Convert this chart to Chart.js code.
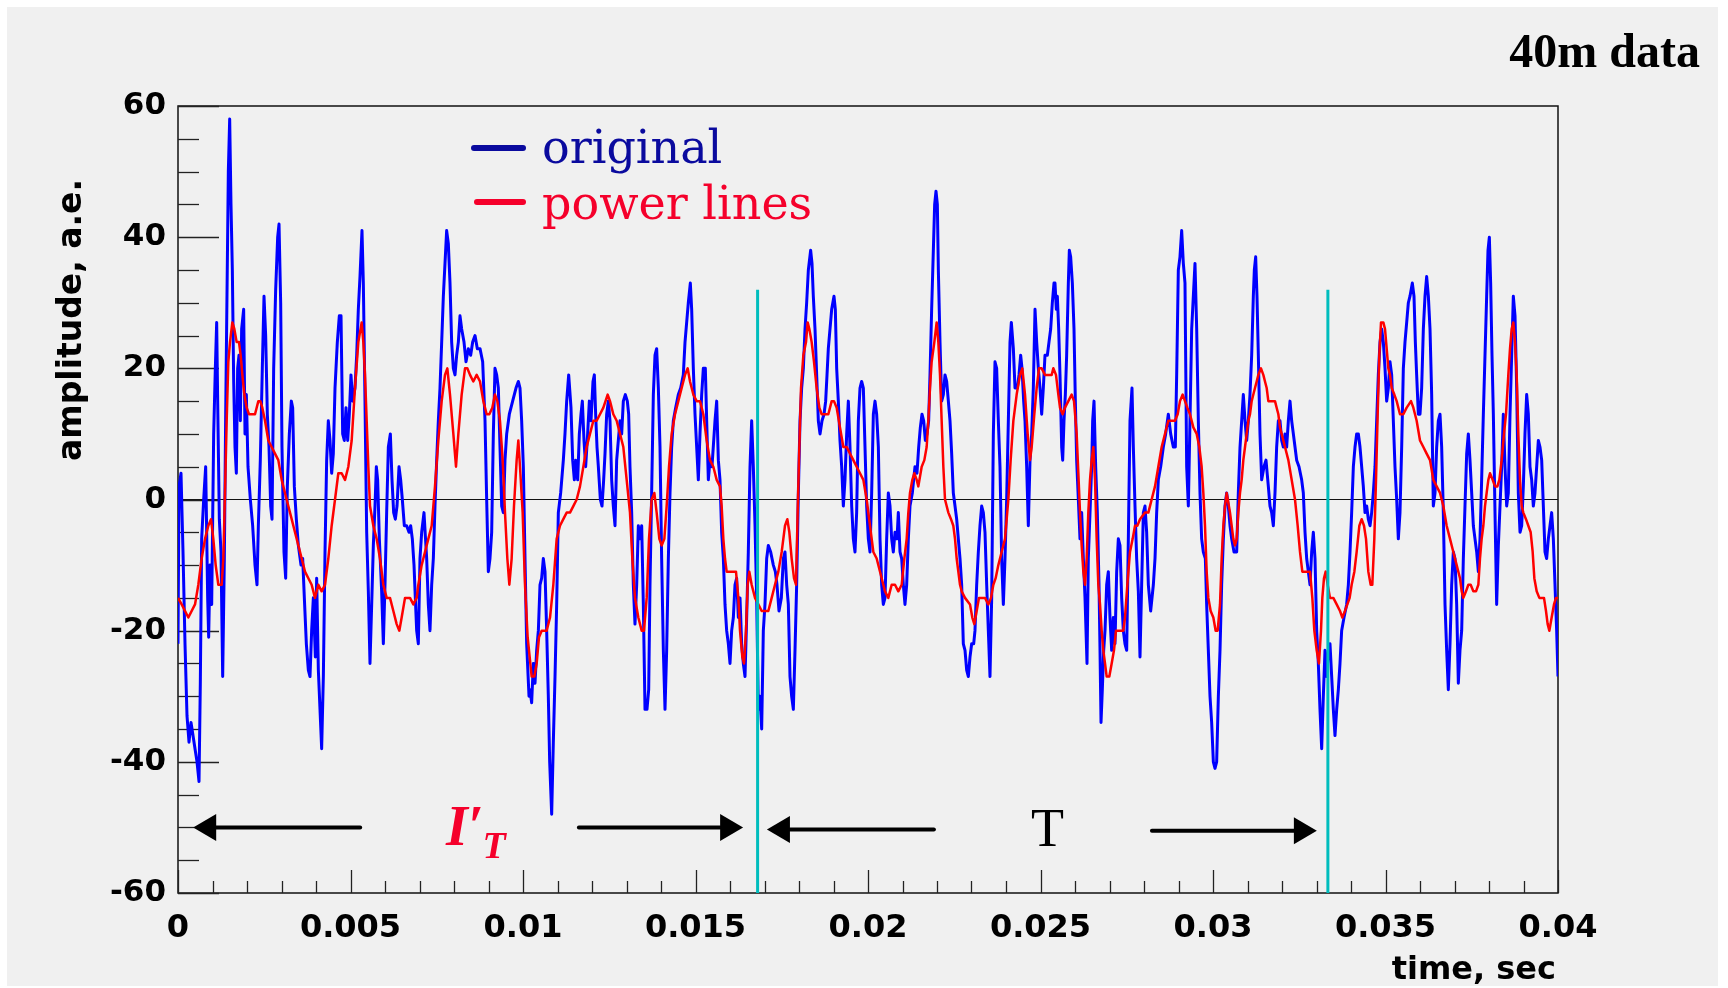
<!DOCTYPE html>
<html>
<head>
<meta charset="utf-8">
<title>40m data</title>
<script src="https://cdn.jsdelivr.net/npm/chart.js@4.4.1/dist/chart.umd.min.js"></script>
<style>
  html, body { margin: 0; padding: 0; background: #ffffff; overflow: hidden; }
  canvas { display: block; }
</style>
</head>
<body>
<canvas id="chart" width="1728" height="988"></canvas>
<script>
// ---- recorded signal: time in milliseconds, amplitude in a.e. ----
const originalTimeMs = [
  0.000,0.029,0.087,0.145,0.203,0.261,0.319,0.377,
  0.435,0.493,0.551,0.609,0.647,0.686,0.744,0.802,
  0.860,0.889,0.928,0.976,1.034,1.082,1.121,1.150,
  1.198,1.246,1.295,1.343,1.382,1.430,1.459,1.498,
  1.536,1.575,1.614,1.652,1.691,1.729,1.768,1.807,
  1.845,1.903,1.942,1.981,2.029,2.097,2.164,2.232,
  2.290,2.329,2.386,2.444,2.493,2.541,2.589,2.638,
  2.686,2.725,2.773,2.831,2.889,2.928,2.976,3.014,
  3.072,3.121,3.169,3.227,3.285,3.324,3.372,3.430,
  3.488,3.565,3.614,3.662,3.720,3.778,3.826,3.874,
  3.923,3.981,4.019,4.068,4.116,4.164,4.213,4.261,
  4.309,4.357,4.406,4.454,4.502,4.551,4.618,4.676,
  4.725,4.773,4.821,4.870,4.918,4.966,5.014,5.063,
  5.130,5.179,5.227,5.275,5.333,5.372,5.420,5.469,
  5.517,5.565,5.614,5.662,5.710,5.749,5.787,5.836,
  5.903,5.952,6.000,6.048,6.097,6.155,6.203,6.251,
  6.300,6.348,6.406,6.454,6.502,6.560,6.628,6.696,
  6.744,6.792,6.841,6.879,6.918,6.966,7.014,7.063,
  7.130,7.208,7.256,7.304,7.353,7.401,7.449,7.498,
  7.546,7.594,7.643,7.691,7.739,7.787,7.836,7.884,
  7.932,7.981,8.029,8.077,8.126,8.174,8.222,8.290,
  8.348,8.415,8.483,8.541,8.609,8.676,8.754,8.831,
  8.899,8.947,8.995,9.043,9.092,9.140,9.188,9.237,
  9.285,9.333,9.382,9.430,9.478,9.527,9.604,9.700,
  9.797,9.865,9.913,9.961,10.010,10.058,10.106,10.174,
  10.203,10.251,10.300,10.348,10.396,10.445,10.493,10.541,
  10.589,10.638,10.686,10.734,10.773,10.802,10.831,10.879,
  10.928,10.976,11.024,11.092,11.169,11.217,11.266,11.324,
  11.391,11.440,11.488,11.527,11.585,11.633,11.681,11.720,
  11.768,11.816,11.874,11.923,11.971,12.029,12.068,12.106,
  12.145,12.184,12.242,12.290,12.338,12.377,12.425,12.473,
  12.522,12.570,12.618,12.667,12.715,12.763,12.812,12.860,
  12.908,12.966,13.024,13.063,13.101,13.150,13.198,13.246,
  13.295,13.343,13.391,13.440,13.488,13.536,13.594,13.643,
  13.681,13.729,13.778,13.826,13.874,13.923,13.971,14.019,
  14.068,14.116,14.164,14.213,14.261,14.309,14.357,14.425,
  14.502,14.570,14.647,14.696,14.744,14.792,14.850,14.889,
  14.937,14.986,15.034,15.082,15.130,15.179,15.227,
  15.285,15.324,15.372,15.420,15.478,15.565,15.614,15.662,
  15.710,15.758,15.807,15.855,15.903,15.952,16.000,16.048,
  16.097,16.145,16.193,16.242,16.290,16.338,16.386,16.435,
  16.483,16.531,16.580,16.628,16.676,16.725,16.773,16.821,
  16.870,16.918,16.966,17.014,17.063,17.111,17.179,17.256,
  17.314,17.362,17.420,17.488,17.546,17.594,17.643,17.691,
  17.739,17.787,17.836,17.884,17.932,17.981,18.029,18.077,
  18.126,18.174,18.222,18.271,18.338,18.377,18.415,18.464,
  18.512,18.560,18.609,18.667,18.725,18.773,18.812,18.850,
  18.899,18.947,19.014,19.053,19.092,19.140,19.188,19.237,
  19.285,19.333,19.382,19.430,19.478,19.527,19.575,19.623,
  19.671,19.720,19.768,19.816,19.865,19.913,19.961,20.010,
  20.058,20.106,20.155,20.203,
  20.251,20.300,20.348,20.396,20.444,20.493,20.541,20.589,
  20.638,20.686,20.734,20.783,20.841,20.879,20.928,20.976,
  21.024,21.072,21.121,21.169,21.217,21.285,21.362,21.420,
  21.469,21.517,21.565,21.614,21.662,21.710,21.758,21.797,
  21.845,21.894,21.932,21.971,22.010,22.039,22.087,22.135,
  22.184,22.232,22.280,22.329,22.377,22.425,22.473,22.522,
  22.570,22.618,22.667,22.715,22.763,22.812,22.860,22.908,
  22.957,23.005,23.063,23.101,23.150,23.198,23.246,23.295,
  23.343,23.391,23.440,23.488,23.536,23.585,23.633,23.681,
  23.729,23.778,23.826,23.874,23.923,23.971,24.019,24.068,
  24.116,24.155,24.213,24.261,24.329,24.377,24.425,24.464,
  24.512,24.551,24.599,24.647,24.696,24.744,24.792,24.841,
  24.889,24.937,24.986,25.034,25.082,25.130,25.198,25.246,
  25.295,25.343,25.391,
  25.420,25.459,25.488,25.527,25.565,25.614,25.643,25.681,
  25.720,25.758,25.807,25.836,25.874,25.923,25.971,26.010,
  26.048,26.097,26.145,26.193,26.242,26.290,26.348,26.386,
  26.435,26.483,26.512,26.551,26.599,26.647,26.696,26.725,
  26.754,26.792,26.831,26.870,26.918,26.966,27.014,27.063,
  27.111,27.159,27.208,27.256,27.304,27.353,27.401,27.449,
  27.498,27.546,27.594,27.652,27.691,27.739,27.787,27.836,
  27.884,27.932,27.981,28.029,28.077,28.126,28.193,28.271,
  28.319,28.367,28.415,28.483,28.560,28.628,28.705,28.773,
  28.850,28.908,28.947,28.995,29.043,29.092,29.140,29.188,
  29.237,29.285,29.333,29.382,29.430,29.478,29.527,29.575,
  29.623,29.671,29.720,29.778,29.816,29.865,29.913,29.961,
  30.010,30.058,30.106,30.155,30.203,30.251,30.300,30.348,
  30.396,30.444,
  30.493,30.541,30.609,30.686,30.734,30.783,30.831,30.879,
  30.928,30.976,31.024,31.072,31.121,31.169,31.198,31.237,
  31.275,31.314,31.362,31.411,31.478,31.536,31.604,31.652,
  31.700,31.749,31.797,31.845,31.894,31.942,31.990,32.039,
  32.087,32.135,32.184,32.232,32.280,32.329,32.377,32.425,
  32.493,32.570,32.618,32.667,32.715,32.763,32.812,32.860,
  32.908,32.957,33.005,33.053,33.101,33.150,33.198,33.246,
  33.295,33.343,33.391,33.440,33.488,33.536,33.585,33.633,
  33.681,33.729,33.797,33.874,33.923,33.971,34.019,34.068,
  34.116,34.164,34.213,34.261,34.309,34.357,34.406,34.454,
  34.502,34.551,34.599,34.647,34.696,34.744,34.792,34.841,
  34.889,34.937,34.986,35.034,35.082,35.130,35.179,35.227,
  35.275,35.324,35.372,35.420,35.469,
  35.517,35.565,35.614,35.662,35.710,35.778,35.826,35.865,
  35.903,35.952,36.000,36.048,36.097,36.145,36.193,36.242,
  36.290,36.338,36.386,36.435,36.483,36.531,36.580,36.628,
  36.676,36.725,36.773,36.821,36.870,36.918,36.966,37.014,
  37.063,37.111,37.159,37.208,37.256,37.304,37.353,37.401,
  37.449,37.498,37.546,37.594,37.643,37.691,37.739,37.787,
  37.836,37.884,37.932,37.971,38.010,38.048,38.087,38.126,
  38.174,38.222,38.271,38.319,38.367,38.415,38.464,38.512,
  38.560,38.609,38.657,38.705,38.754,38.802,38.850,38.899,
  38.947,38.995,39.043,39.092,39.140,39.188,39.237,39.285,
  39.333,39.382,39.430,39.478,39.527,39.575,39.623,39.671,
  39.720,39.768,39.816,39.865,39.913,39.961,40.000
];
const originalAmplitude = [
  -22,2,4,-8,-22,-33,-37,-34,
  -36,-38,-40,-43,-28,-6,0,5,
  -15,-21,-10,-16,10,20,27,15,
  -3,-8,-27,-9,13,36,50,58,
  45,35,18,8,4,20,22,12,
  26,29,10,16,5,0,-4,-10,
  -13,-4,6,20,31,25,13,8,
  -1,-3,20,32,40,42,30,8,
  -8,-12,2,10,15,14,2,-3,
  -7,-10,-9,-15,-22,-26,-27,-20,
  -15,-24,-12,-26,-32,-38,-27,-8,
  6,12,9,4,7,17,24,28,
  28,10,9,14,9,13,19,15,
  17,22,29,34,41,33,15,-5,
  -14,-25,-16,-7,-1,5,3,-6,
  -14,-22,-13,-2,8,10,3,-2,
  -3,-1,5,3,0,-4,-4,-5,
  -4,-6,-10,-15,-20,-22,-9,-5,
  -2,-9,-16,-20,-13,-9,-1,6,
  12,17,24,31,36,41,39,33,
  24,20,19,22,24,28,26,24,
  21,23,22,24,25,23,23,21,
  12,0,-11,-9,-5,10,20,19,
  17,8,-1,-2,6,10,13,15,
  17,18,17,12,5,-9,-22,-30,
  -29,-31,-25,-28,-23,-20,-13,-12,
  -9,-11,-20,-30,-40,-44,-48,-37,
  -27,-16,-2,1,6,10,15,19,
  14,6,3,6,3,10,13,15,
  9,5,10,15,12,18,19,13,
  8,5,0,-1,3,7,13,15,
  12,3,-1,-4,6,9,12,10,
  15,16,15,13,5,-2,-13,-19,
  -13,-4,-6,-4,-16,-32,-32,-29,
  -13,1,16,22,23,17,8,-9,
  -23,-32,-23,-9,1,8,12,14,
  16,17,19,24,27,30,33,29,
  20,13,8,3,10,16,20,
  20,12,3,6,5,12,15,6,
  3,-5,-9,-16,-20,-22,-25,-20,
  -18,-13,-12,-18,-15,-22,-25,-27,
  -18,-8,5,12,5,-4,-15,-32,
  -30,-35,-20,-16,-9,-7,-8,-10,
  -11,-13,-17,-15,-9,-8,-13,-16,
  -27,-30,-32,-23,-13,1,12,17,
  20,26,30,35,38,36,31,26,
  19,12,10,12,13,15,19,23,
  26,29,31,29,20,15,9,5,
  -1,3,10,15,8,-1,-6,-8,
  -2,12,17,18,17,8,-1,-6,
  -8,1,13,15,
  13,8,-6,-13,-16,-15,-6,1,
  -1,-6,-8,-5,-6,-2,-8,-9,
  -13,-16,-13,-6,-1,1,5,4,
  8,11,13,12,9,10,12,19,
  29,38,45,47,45,35,24,15,
  16,19,18,15,12,7,1,-1,
  -3,-6,-9,-13,-22,-23,-26,-27,
  -24,-22,-22,-20,-13,-8,-4,-1,
  -2,-5,-13,-20,-27,-15,10,21,
  20,12,5,-9,-16,-9,0,12,
  24,27,23,17,17,19,22,20,
  15,12,5,-4,6,10,17,29,
  24,20,17,13,17,22,22,24,
  26,30,33,
  33,29,31,26,19,8,6,12,
  16,22,33,38,37,33,26,15,
  6,0,-6,-2,-9,-15,-25,-9,
  -2,5,12,15,5,-2,-13,-23,
  -34,-29,-23,-20,-13,-11,-18,-23,
  -18,-22,-11,-6,-7,-15,-20,-22,
  -23,-6,12,17,8,-1,-9,-14,
  -24,-13,-2,-1,-5,-13,-17,-13,
  -9,-2,3,5,8,10,13,10,
  8,8,19,35,37,41,36,33,
  5,-1,12,26,31,36,26,12,
  1,-6,-8,-9,-16,-23,-30,-34,
  -40,-41,-40,-30,-23,-13,-6,-1,
  1,-1,
  -4,-6,-8,-8,1,8,12,16,
  12,9,12,16,22,31,35,37,
  31,22,10,3,5,6,2,-1,
  -2,-4,1,8,12,12,9,8,
  10,8,12,15,12,10,8,6,
  5,3,1,-5,-9,-11,-13,-8,
  -5,-9,-20,-25,-32,-38,-30,-23,
  -27,-23,-22,-27,-32,-36,-32,-29,
  -25,-20,-18,-16,-13,-8,-2,5,
  8,10,10,8,5,2,-2,-1,
  -3,-4,-2,1,5,12,19,24,
  26,24,20,15,17,21,19,12,
  5,0,-6,-2,8,
  20,24,27,30,31,33,31,24,
  19,13,13,17,26,31,34,31,
  26,16,-1,1,8,12,13,8,
  -2,-16,-23,-29,-22,-13,-8,-9,
  -16,-28,-23,-20,-9,-1,7,10,
  6,1,-4,-6,-8,-11,-6,3,
  13,22,31,38,40,33,22,13,
  -2,-16,-7,-1,5,13,5,-1,
  1,13,22,31,28,17,1,-5,
  -4,2,10,16,13,5,3,-1,
  1,5,9,8,6,-1,-8,-9,
  -6,-4,-2,-6,-13,-20,-27
];

// ---- power-line component: time in milliseconds, amplitude in a.e. ----
const powerLinesTimeMs = [
  0.000,0.106,0.300,0.493,0.589,0.686,0.783,0.879,
  0.957,1.024,1.092,1.169,1.266,1.314,1.362,1.411,
  1.459,1.507,1.575,1.633,1.700,1.768,1.816,1.865,
  1.923,1.990,2.058,2.135,2.232,2.329,2.386,2.444,
  2.522,2.618,2.715,2.812,2.908,3.005,3.101,3.198,
  3.295,3.391,3.488,3.585,3.681,3.778,3.874,3.971,
  4.068,4.164,4.261,4.357,4.454,4.551,4.647,4.744,
  4.841,4.937,5.034,5.130,5.227,5.324,5.372,5.420,
  5.469,5.517,5.565,5.662,5.758,5.855,5.952,6.048,
  6.145,6.242,6.338,6.415,6.483,6.580,6.647,6.725,
  6.821,6.918,6.966,7.063,7.159,7.256,7.353,7.449,
  7.546,7.643,7.739,7.807,7.884,7.981,8.058,8.126,
  8.222,8.319,8.386,8.464,8.560,8.657,8.754,8.850,
  8.947,9.024,9.111,9.188,9.256,9.333,9.411,9.478,
  9.546,9.604,9.671,9.739,9.816,9.865,9.913,9.990,
  10.058,10.135,10.251,10.329,10.396,10.464,10.541,10.618,
  10.686,10.783,10.879,10.976,11.072,11.169,11.266,11.362,
  11.459,11.556,11.652,11.749,11.845,11.942,12.039,12.135,
  12.232,12.329,12.454,12.522,12.618,12.715,12.812,12.908,
  13.005,13.101,13.169,13.246,13.343,13.440,13.507,13.585,
  13.652,13.729,13.807,13.874,13.952,14.019,14.097,14.164,
  14.232,14.309,14.406,14.502,14.599,14.696,14.773,14.841,
  14.937,15.034,15.130,15.227,15.324,15.420,15.517,15.614,
  15.710,15.758,15.807,15.855,15.903,16.000,16.097,16.174,
  16.242,16.290,16.357,16.406,16.464,16.512,16.560,16.628,
  16.725,16.821,16.918,17.014,17.111,17.208,17.304,17.401,
  17.498,17.594,17.662,17.720,17.787,17.855,17.913,17.961,
  18.010,18.058,18.126,18.203,18.251,18.300,18.367,18.435,
  18.512,18.589,18.657,18.754,18.850,18.947,19.014,19.092,
  19.188,19.285,19.382,19.478,19.575,19.671,19.768,19.865,
  19.961,20.058,20.155,20.251,20.396,20.493,20.589,20.686,
  20.783,20.879,20.976,21.053,21.121,21.169,21.217,21.285,
  21.343,21.411,21.459,21.556,21.633,21.700,21.749,21.797,
  21.845,21.923,21.990,22.039,22.087,22.135,22.184,22.232,
  22.280,22.329,22.406,22.473,22.522,22.570,22.618,22.667,
  22.715,22.812,22.957,23.024,23.082,23.150,23.217,23.295,
  23.391,23.488,23.565,23.633,23.700,23.778,23.874,23.971,
  24.068,24.135,24.213,24.309,24.406,24.473,24.551,24.628,
  24.696,24.744,24.821,24.889,24.957,25.034,25.130,25.227,
  25.324,25.372,25.449,25.517,25.565,25.643,25.710,25.807,
  25.903,25.971,26.048,26.097,26.145,26.193,26.242,26.290,
  26.338,26.386,26.435,26.483,26.531,26.580,26.628,26.676,
  26.725,26.773,26.821,26.870,26.918,26.995,27.063,27.130,
  27.188,27.256,27.401,27.449,27.517,27.594,27.671,27.739,
  27.807,27.884,28.029,28.126,28.222,28.319,28.415,28.512,
  28.609,28.705,28.899,28.976,29.043,29.121,29.188,29.256,
  29.333,29.430,29.527,29.604,29.671,29.720,29.768,29.816,
  29.865,29.932,30.010,30.077,30.135,30.203,30.251,30.300,
  30.348,30.396,30.493,30.541,30.589,30.638,30.686,30.734,
  30.783,30.831,30.879,30.928,30.976,31.024,31.072,31.121,
  31.169,31.217,31.266,31.314,31.391,31.459,31.507,31.556,
  31.604,31.700,31.797,31.845,31.894,31.942,31.990,32.087,
  32.184,32.280,32.377,32.454,32.522,32.589,32.667,32.744,
  32.812,32.879,32.937,33.005,33.072,33.130,33.169,33.217,
  33.266,33.324,33.391,33.488,33.585,33.681,33.749,33.826,
  33.894,33.961,34.019,34.097,34.164,34.242,34.309,34.377,
  34.435,34.502,34.570,34.618,34.676,34.725,34.773,34.821,
  34.870,34.937,34.986,35.034,35.082,35.130,35.179,35.256,
  35.324,35.420,35.517,35.614,35.739,35.807,35.903,36.000,
  36.097,36.193,36.290,36.386,36.483,36.580,36.676,36.773,
  36.870,36.966,37.063,37.159,37.208,37.256,37.333,37.401,
  37.469,37.546,37.623,37.691,37.739,37.787,37.836,37.884,
  37.932,37.981,38.029,38.106,38.174,38.242,38.300,38.367,
  38.435,38.493,38.560,38.609,38.657,38.705,38.754,38.802,
  38.850,38.899,38.947,38.995,39.072,39.140,39.208,39.266,
  39.314,39.382,39.459,39.527,39.594,39.652,39.700,39.749,
  39.816,39.884,39.942,40.000
];
const powerLinesAmplitude = [
  -15,-16,-18,-16,-13,-9,-6,-4,
  -3,-6,-10,-13,-13,-9,1,12,
  21,24,27,26,24,24,22,19,
  16,14,13,13,13,15,15,14,
  12,9,8,7,6,3,1,-1,
  -3,-5,-7,-9,-11,-12,-13,-15,
  -13,-14,-13,-9,-4,0,4,4,
  3,5,9,17,24,27,24,19,
  12,5,-1,-4,-6,-9,-13,-15,
  -15,-17,-19,-20,-18,-15,-15,-15,
  -16,-15,-13,-10,-8,-6,-4,2,
  9,15,19,20,16,10,5,10,
  16,20,20,19,18,19,18,15,
  13,13,14,16,15,12,6,-2,
  -9,-13,-9,-1,6,9,5,-2,
  -13,-21,-27,-27,-25,-21,-20,-20,
  -20,-18,-13,-6,-4,-3,-2,-2,
  -1,0,2,5,8,10,12,12,
  13,14,16,15,13,12,10,8,
  3,-2,-9,-15,-18,-20,-20,-15,
  -6,0,1,-2,-6,-7,-6,-1,
  5,10,13,15,17,19,20,18,
  16,15,15,13,9,6,5,3,
  2,-1,-6,-9,-11,-11,-11,-11,
  -15,-20,-24,-25,-20,-13,-11,-13,
  -15,-16,-17,-17,-17,-15,-13,-11,
  -8,-4,-3,-5,-9,-12,-13,-2,
  8,17,22,24,27,26,24,21,
  17,14,13,13,13,15,15,14,
  11,8,8,7,6,5,4,3,
  0,-4,-8,-9,-12,-14,-15,-13,
  -13,-14,-13,-9,-6,-2,1,3,
  4,3,2,5,6,8,12,17,
  21,24,27,24,19,12,5,0,
  -1,-2,-3,-4,-6,-9,-11,-13,
  -14,-15,-16,-18,-19,-17,-15,-15,
  -15,-16,-15,-13,-12,-10,-8,-6,
  0,6,12,16,19,20,16,10,
  6,8,13,17,20,20,19,19,
  19,20,19,16,14,13,14,15,
  16,15,10,4,-2,-7,-11,-13,
  -9,-2,3,6,8,3,-6,-13,
  -16,-20,-23,-25,-27,-27,-25,-23,
  -20,-20,-20,-18,-13,-8,-6,-4,
  -4,-3,-2,-2,0,2,5,8,
  10,12,12,13,15,16,15,14,
  13,11,10,8,5,1,-4,-11,
  -15,-17,-18,-20,-20,-16,-9,-4,
  -1,1,-2,-4,-6,-7,-6,-2,
  1,3,6,8,10,12,13,15,
  16,17,18,19,20,19,18,17,
  15,15,15,14,13,11,10,8,
  6,3,0,-4,-8,-11,-11,-11,
  -11,-15,-20,-23,-25,-20,-15,-12,
  -11,-13,-15,-15,-16,-17,-18,-17,
  -16,-15,-13,-11,-8,-4,-3,-4,
  -6,-11,-13,-13,-6,3,13,22,
  27,27,26,23,20,19,17,16,
  15,13,13,14,15,14,12,9,
  8,7,6,3,2,1,-1,-4,
  -6,-8,-10,-12,-14,-15,-14,-13,
  -13,-14,-14,-13,-9,-6,-4,-1,
  1,3,4,3,2,2,3,6,
  10,13,19,23,26,27,24,19,
  10,3,-1,-2,-3,-4,-5,-8,
  -12,-14,-15,-15,-15,-17,-19,-20,
  -18,-16,-15,-15
];

// ---- axes and annotation values ----
const timeRange = [0, 0.04];            // seconds
const amplitudeRange = [-60, 60];       // a.e.
const timeMajorStep = 0.005, timeMinorStep = 0.001;
const ampMajorStep = 20, ampMinorStep = 5;
const periodMarkersMs = [16.8, 33.33];  // cyan period boundaries
const periodMarkerTop = 32;
// arrows: [from ms, to ms, amplitude]; the head sits at the "to" end
const periodArrows = [
  [5.28, 0.44, -50.0],
  [11.62, 16.38, -50.0],
  [21.91, 17.07, -50.3],
  [28.23, 33.01, -50.5]
];
const primeLabelAt = [7.77, -52.7];     // I'_T (ms, a.e.)
const periodLabelAt = [25.2, -52.9];    // T (ms, a.e.)

const toPoints = (tMs, amp) => {
  const n = Math.min(tMs.length, amp.length);
  const pts = [];
  for (let i = 0; i < n; i++) pts.push({ x: tMs[i] / 1000, y: amp[i] });
  return pts;
};

const BLUE = '#0000ff', RED = '#ff0000', CYAN = '#00bdbd';
const LEGEND_BLUE = '#0a0a9e', LEGEND_RED = '#f5002b';

const datasets = [
  { label: 'original', data: toPoints(originalTimeMs, originalAmplitude),
    borderColor: BLUE, borderWidth: 3, pointRadius: 0, tension: 0, order: 3,
    borderJoinStyle: 'round' },
  { label: 'power lines', data: toPoints(powerLinesTimeMs, powerLinesAmplitude),
    borderColor: RED, borderWidth: 2.5, pointRadius: 0, tension: 0, order: 2,
    borderJoinStyle: 'round' }
];
periodMarkersMs.forEach(t => datasets.push({
  label: 'period', data: [{ x: t / 1000, y: amplitudeRange[0] }, { x: t / 1000, y: periodMarkerTop }],
  borderColor: CYAN, borderWidth: 3, pointRadius: 0, order: 1
}));

// page background: white margin with a light grey pad
const pagePlugin = {
  id: 'page',
  beforeDraw(chart) {
    const c = chart.ctx;
    c.save();
    c.fillStyle = '#ffffff';
    c.fillRect(0, 0, chart.width, chart.height);
    c.fillStyle = '#f0f0f0';
    c.fillRect(7, 7, chart.width - 17, chart.height - 9);
    c.restore();
  }
};

// frame, zero line and inward tick marks
const framePlugin = {
  id: 'frame',
  beforeDatasetsDraw(chart) {
    const { ctx, chartArea: a, scales: { x, y } } = chart;
    const seg = (x1, y1, x2, y2) => { ctx.beginPath(); ctx.moveTo(x1, y1); ctx.lineTo(x2, y2); ctx.stroke(); };
    ctx.save();
    ctx.strokeStyle = '#111';
    ctx.lineWidth = 1.5;
    ctx.strokeRect(a.left, a.top, a.right - a.left, a.bottom - a.top);
    ctx.lineWidth = 1.2;
    const y0 = y.getPixelForValue(0);
    seg(a.left, y0, a.right, y0);
    ctx.strokeStyle = '#222';
    ctx.lineWidth = 1.3;
    const nY = Math.round((amplitudeRange[1] - amplitudeRange[0]) / ampMinorStep);
    for (let i = 0; i <= nY; i++) {
      const v = amplitudeRange[0] + i * ampMinorStep;
      const major = Math.abs(v % ampMajorStep) < 1e-9;
      const py = Math.round(y.getPixelForValue(v)) + 0.5;
      seg(a.left, py, a.left + (major ? 41 : 21), py);
    }
    const nX = Math.round((timeRange[1] - timeRange[0]) / timeMinorStep);
    for (let i = 0; i <= nX; i++) {
      const v = timeRange[0] + i * timeMinorStep;
      const major = i % Math.round(timeMajorStep / timeMinorStep) === 0;
      const px = Math.round(x.getPixelForValue(v)) + 0.5;
      seg(px, a.bottom, px, a.bottom - (major ? 23 : 12));
    }
    ctx.restore();
  }
};

// titles, legend and period annotations
const textPlugin = {
  id: 'texts',
  afterDraw(chart) {
    const { ctx, chartArea: a, scales: { x, y } } = chart;
    ctx.save();
    ctx.fillStyle = '#000';

    // corner title
    ctx.font = 'bold 48px "Liberation Serif"';
    ctx.textAlign = 'right';
    ctx.textBaseline = 'alphabetic';
    ctx.fillText('40m data', 1700, 67);

    // axis titles
    ctx.font = 'bold 32px "DejaVu Sans"';
    ctx.fillText('time, sec', a.right - 2, 979);
    ctx.save();
    ctx.translate(72, 320);
    ctx.rotate(-Math.PI / 2);
    ctx.textAlign = 'center';
    ctx.textBaseline = 'middle';
    ctx.font = 'bold 33px "DejaVu Sans"';
    ctx.fillText('amplitude, a.e.', 0, 0);
    ctx.restore();

    // legend
    const legend = [
      { text: datasets[0].label, color: LEGEND_BLUE, x1: a.left + 296, y: a.top + 42, base: a.top + 57 },
      { text: datasets[1].label, color: LEGEND_RED, x1: a.left + 299, y: a.top + 96, base: a.top + 113 }
    ];
    ctx.textAlign = 'left';
    ctx.lineCap = 'round';
    ctx.lineWidth = 6;
    ctx.font = '46px "DejaVu Serif"';
    legend.forEach(e => {
      ctx.strokeStyle = e.color;
      ctx.beginPath(); ctx.moveTo(e.x1, e.y); ctx.lineTo(a.left + 345, e.y); ctx.stroke();
      ctx.fillStyle = e.color;
      ctx.fillText(e.text, a.left + 364, e.base);
    });

    // arrows
    ctx.strokeStyle = '#000';
    ctx.fillStyle = '#000';
    ctx.lineWidth = 4;
    periodArrows.forEach(([fromMs, toMs, v]) => {
      const xf = x.getPixelForValue(fromMs / 1000);
      const xt = x.getPixelForValue(toMs / 1000);
      const py = y.getPixelForValue(v);
      const dir = Math.sign(xt - xf);
      const headLen = 23, halfH = 13.5;
      ctx.beginPath(); ctx.moveTo(xf, py); ctx.lineTo(xt - dir * headLen, py); ctx.stroke();
      ctx.beginPath();
      ctx.moveTo(xt, py);
      ctx.lineTo(xt - dir * headLen, py - halfH);
      ctx.lineTo(xt - dir * headLen, py + halfH);
      ctx.closePath();
      ctx.fill();
    });

    // I'_T label
    ctx.fillStyle = LEGEND_RED;
    ctx.textAlign = 'left';
    ctx.font = 'italic bold 56px "Liberation Serif"';
    const lx = x.getPixelForValue(primeLabelAt[0] / 1000);
    const ly = y.getPixelForValue(primeLabelAt[1]);
    ctx.fillText('I\u2032', lx, ly);
    const w = ctx.measureText('I\u2032').width;
    ctx.font = 'italic bold 38px "Liberation Serif"';
    ctx.fillText('T', lx + w - 1, ly + 13);

    // T label
    ctx.fillStyle = '#000';
    ctx.textAlign = 'center';
    ctx.font = '54px "Liberation Serif"';
    ctx.fillText('T', x.getPixelForValue(periodLabelAt[0] / 1000), y.getPixelForValue(periodLabelAt[1]));
    ctx.restore();
  }
};

new Chart(document.getElementById('chart'), {
  type: 'line',
  data: { datasets },
  options: {
    responsive: false,
    animation: false,
    devicePixelRatio: 1,
    events: [],
    layout: { padding: { left: 0, right: 170, top: 106, bottom: 0 } },
    plugins: { legend: { display: false }, tooltip: { enabled: false }, title: { display: false } },
    scales: {
      x: {
        type: 'linear', min: timeRange[0], max: timeRange[1],
        afterFit(s) { s.height = 95; },
        grid: { display: false, drawTicks: false },
        border: { display: false },
        ticks: {
          stepSize: timeMajorStep, autoSkip: false, maxRotation: 0, padding: 16,
          color: '#000', font: { family: 'DejaVu Sans', weight: 'bold', size: 32 },
          callback: v => String(+Number(v).toFixed(3))
        }
      },
      y: {
        type: 'linear', min: amplitudeRange[0], max: amplitudeRange[1],
        afterFit(s) { s.width = 178; },
        grid: { display: false, drawTicks: false },
        border: { display: false },
        ticks: {
          stepSize: ampMajorStep, autoSkip: false, padding: 12,
          color: '#000', font: { family: 'DejaVu Sans', weight: 'bold', size: 31 },
          callback: v => String(v)
        }
      }
    }
  },
  plugins: [pagePlugin, framePlugin, textPlugin]
});
</script>
</body>
</html>
